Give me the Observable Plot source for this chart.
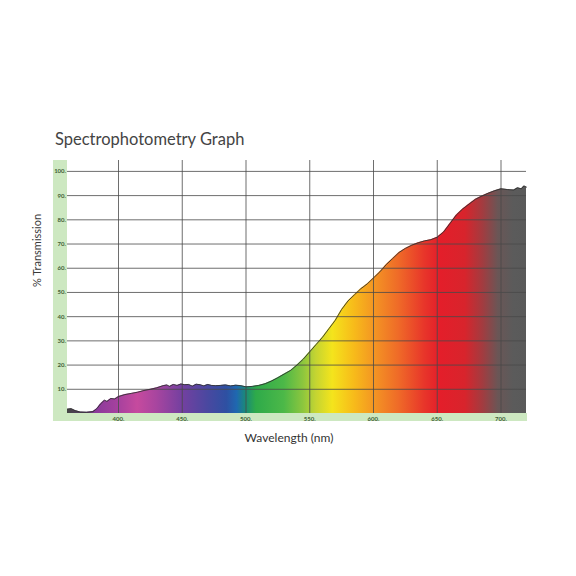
<!DOCTYPE html>
<html>
<head>
<meta charset="utf-8">
<script src="https://cdn.jsdelivr.net/npm/d3@7"></script>
<script src="https://cdn.jsdelivr.net/npm/@observablehq/plot@0.6"></script>
<style>
  html, body { margin: 0; padding: 0; background: #ffffff; }
  #wrap { position: relative; width: 576px; height: 576px; }
  #title { position: absolute; left: 55px; top: 129px; font-family: Lato, sans-serif; font-weight: 400; font-size: 16.5px; color: #444444; white-space: nowrap; }
  #chart { position: absolute; left: 0; top: 0; }
</style>
</head>
<body>
<div id="wrap">
  <div id="chart"></div>
  <div id="title">Spectrophotometry Graph</div>
</div>
<script>
// ---- data ----
const wavelengths = [360,363,366,370,375,380,383,386,389,391,394,397,400,405,410,415,420,425,430,435,438,440,443,446,449,452,455,458,461,464,467,470,473,476,480,484,488,492,496,500,505,510,515,520,525,530,535,540,545,550,555,560,565,570,575,580,585,590,595,600,605,610,615,620,625,630,635,640,645,650,655,660,665,670,675,680,685,690,695,700,705,710,713,716,718,720];
const transmission = [1.8,2.0,1.2,0.6,0.5,0.8,2.0,4.0,5.5,5.0,6.2,6.0,7.0,7.8,8.3,8.8,9.5,10.0,10.6,11.5,11.8,11.2,12.0,11.6,12.2,11.9,12.0,11.3,12.1,11.9,11.4,12.0,11.6,11.5,11.6,11.8,11.4,11.7,11.5,11.0,11.2,11.6,12.3,13.4,14.8,16.3,17.8,20.0,22.5,25.5,28.5,31.5,35.0,38.5,43.0,46.5,49.0,51.5,53.5,56.0,58.5,61.5,64.0,66.5,68.2,69.5,70.5,71.3,71.8,72.8,75.0,78.5,82.0,84.5,86.5,88.5,89.8,91.0,92.0,92.8,92.5,92.3,93.2,92.8,94.0,93.5];
const xTicks = [400, 450, 500, 550, 600, 650, 700];
const yTicks = [10, 20, 30, 40, 50, 60, 70, 80, 90, 100];
const xDomain = [360, 720];
const yDomain = [0, 104.5];

// spectrum colour stops (wavelength -> colour)
const stopWavelengths = [360,375,382,400,415,430,450,470,485,493,500,508,530,545,555,568,585,603,620,640,652,672,686,698,710,720];
const stopColors = ["#444444","#5a3a6a","#8a3a9a","#a6419e","#c64a9e","#a8459f","#7440a0","#4a48a0","#2e50a2","#1f68b0","#1a8a78","#2eaa4a","#4cb848","#8cc63e","#c4d432","#f4e41c","#f7bb1a","#f39024","#ef6a28","#e8362a","#e41e2a","#d8242c","#a23c40","#6a5656","#5b5b5b","#5a5a5a"];

const data = wavelengths.map((w, i) => ({w, t: transmission[i]}));
const stops = stopWavelengths.map((w, i) => ({w, c: stopColors[i]}));

const stripGreen = "#cde8c1";
const tickInk = "#3f5f34";

function gradientDefs(index, scales) {
  const ns = "http://www.w3.org/2000/svg";
  const defs = document.createElementNS(ns, "defs");
  const g = document.createElementNS(ns, "linearGradient");
  g.setAttribute("id", "spectrum");
  g.setAttribute("gradientUnits", "userSpaceOnUse");
  g.setAttribute("x1", scales.x(xDomain[0]));
  g.setAttribute("x2", scales.x(xDomain[1]));
  g.setAttribute("y1", 0);
  g.setAttribute("y2", 0);
  for (const s of stops) {
    const st = document.createElementNS(ns, "stop");
    st.setAttribute("offset", (s.w - xDomain[0]) / (xDomain[1] - xDomain[0]));
    st.setAttribute("stop-color", s.c);
    g.appendChild(st);
  }
  defs.appendChild(g);
  return defs;
}

const chart = Plot.plot({
  width: 576,
  height: 576,
  marginTop: 160,
  marginBottom: 163,
  marginLeft: 67,
  marginRight: 50,
  style: {fontFamily: "Lato, sans-serif", background: "transparent"},
  x: {domain: xDomain},
  y: {domain: yDomain},
  marks: [
    gradientDefs,
    // green axis strips
    Plot.rect([0], {x1: xDomain[0] - 11, x2: xDomain[0], y1: yDomain[0] - 3.3, y2: yDomain[1], fill: stripGreen}),
    Plot.rect([0], {x1: xDomain[0] - 11, x2: xDomain[1] + 0.8, y1: yDomain[0] - 3.3, y2: yDomain[0], fill: stripGreen}),
    Plot.areaY(data, {x: "w", y: "t", fill: "url(#spectrum)", curve: "linear"}),
    Plot.ruleX(xTicks, {stroke: "#4a4a4a", strokeWidth: 1, strokeOpacity: 0.8, y1: yDomain[0], y2: yDomain[1]}),
    Plot.ruleY(yTicks, {stroke: "#4a4a4a", strokeWidth: 1, strokeOpacity: 0.8, x1: xDomain[0], x2: xDomain[1]}),
    Plot.lineY(data, {x: "w", y: "t", stroke: "#333333", strokeWidth: 0.9, curve: "linear"}),
    Plot.axisY(yTicks, {tickSize: 0, tickPadding: 1.5, tickFormat: d => d + ".", fontSize: 6, fontWeight: "bold", fill: tickInk, label: null}),
    Plot.axisX(xTicks, {tickSize: 0, tickPadding: 3, tickFormat: d => d + ".", fontSize: 6, fontWeight: "bold", fill: tickInk, label: null}),
    Plot.text(["Wavelength (nm)"], {frameAnchor: "bottom", dx: -8, dy: 28, lineAnchor: "bottom", fontSize: 12, fill: "#333333"}),
    Plot.text(["% Transmission"], {frameAnchor: "left", dx: -30, rotate: -90, fontSize: 11, fill: "#3a3a3a"})
  ]
});
document.getElementById("chart").appendChild(chart);
</script>
</body>
</html>
